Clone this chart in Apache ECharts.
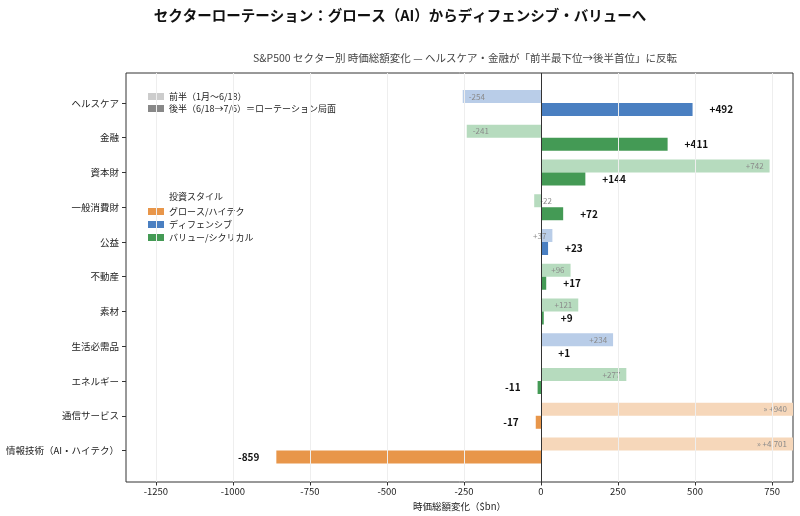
<!DOCTYPE html>
<html>
<head>
<meta charset="utf-8">
<script src="https://cdn.jsdelivr.net/npm/echarts@6/dist/echarts.min.js"></script>
<style>
  html, body { margin: 0; padding: 0; background: #fff; }
  #chart { width: 800px; height: 516px; }
</style>
</head>
<body>
<div id="chart"></div>
<script>
/* データ */
const sectors = ['ヘルスケア', '金融', '資本財', '一般消費財', '公益', '不動産', '素材', '生活必需品', 'エネルギー', '通信サービス', '情報技術（AI・ハイテク）']
const sectorStyles = ['def', 'val', 'val', 'val', 'def', 'val', 'val', 'def', 'val', 'gro', 'gro']
const firstHalf = [-254, -241, 742, -22, 37, 96, 121, 234, 277, 940, 4701]
const secondHalf = [492, 411, 144, 72, 23, 17, 9, 1, -11, -17, -859]
const xTicks = [-1250, -1000, -750, -500, -250, 0, 250, 500, 750]
const styleKeys = ['gro', 'def', 'val']
const styleNames = ['グロース/ハイテク', 'ディフェンシブ', 'バリュー/シクリカル']
const periodNames = ['前半（1月〜6/18）', '後半（6/18→7/6）＝ローテーション局面']

/* 色 */
const darkColor = { gro: '#e8964a', def: '#4a7fc1', val: '#449a55' }
const lightColor = { gro: '#f6d7ba', def: '#b9cde8', val: '#b6dbbe' }
const FONT = '"Noto Sans CJK JP", "Noto Sans", sans-serif'
const X_MIN = -1347
const X_MAX = 818

const fmt = v => (v > 0 ? '+' : '') + v.toLocaleString('en-US')

const firstData = firstHalf.map((v, i) => ({
  value: v,
  itemStyle: { color: lightColor[sectorStyles[i]] },
  label: {
    position: v < 0 ? 'insideLeft' : 'insideRight',
    formatter: (v > X_MAX ? '» ' : '') + fmt(v)
  }
}))

const secondData = secondHalf.map((v, i) => ({
  value: v,
  itemStyle: { color: darkColor[sectorStyles[i]] },
  label: { position: v < 0 ? 'left' : 'right' }
}))

const chart = echarts.init(document.getElementById('chart'))

const option = {
  animation: false,
  textStyle: { fontFamily: FONT },
  title: [
    {
      text: 'セクターローテーション：グロース（AI）からディフェンシブ・バリューへ',
      left: 'center', top: 3,
      textStyle: { fontFamily: FONT, fontSize: 14.5, fontWeight: 'bold', color: '#111' }
    },
    {
      text: 'S&P500 セクター別 時価総額変化 — ヘルスケア・金融が「前半最下位→後半首位」に反転',
      left: 460, top: 48, textAlign: 'center',
      textStyle: { fontFamily: FONT, fontSize: 10.5, fontWeight: 'normal', color: '#444' }
    }
  ],
  graphic: [{
    type: 'text', left: 169, top: 192,
    style: { text: '投資スタイル', font: '9px ' + FONT, fill: '#222' }
  }],
  legend: [
    {
      data: periodNames, orient: 'vertical', left: 143, top: 87,
      icon: 'rect', itemWidth: 16, itemHeight: 7, itemGap: 3,
      textStyle: { fontFamily: FONT, fontSize: 9, color: '#222' }
    },
    {
      data: styleNames, orient: 'vertical', left: 143, top: 202,
      icon: 'rect', itemWidth: 16, itemHeight: 7, itemGap: 4,
      textStyle: { fontFamily: FONT, fontSize: 9, color: '#222' }
    }
  ],
  grid: [
    { left: 126, right: 7, top: 85.6, bottom: 47.6 },
    { left: 126, right: 7, top: 73, bottom: 34, show: true, borderColor: '#333', borderWidth: 1 }
  ],
  xAxis: [
    {
      type: 'value', gridIndex: 0, min: X_MIN, max: X_MAX, offset: 13.6,
      axisLine: { show: false, onZero: false },
      splitLine: { show: false },
      axisTick: { show: true, length: 4, customValues: xTicks, lineStyle: { color: '#333' } },
      axisLabel: { customValues: xTicks, fontSize: 9.5, color: '#222', margin: 5, formatter: v => String(v) },
      name: '時価総額変化（$bn）', nameLocation: 'middle', nameGap: 20,
      nameTextStyle: { fontFamily: FONT, fontSize: 9.5, color: '#222' }
    },
    { type: 'value', gridIndex: 1, min: X_MIN, max: X_MAX, show: false }
  ],
  yAxis: [
    {
      type: 'category', gridIndex: 0, data: sectors, inverse: true,
      axisLine: { show: false, onZero: false },
      axisTick: { show: true, length: 4, alignWithLabel: true, lineStyle: { color: '#333' } },
      axisLabel: { fontSize: 9.5, color: '#222', margin: 7 }
    },
    { type: 'value', gridIndex: 1, min: 0, max: 1, show: false }
  ],
  series: [
    {
      name: periodNames[0], type: 'bar', xAxisIndex: 0, yAxisIndex: 0,
      barWidth: 13, barGap: '0%',
      itemStyle: { color: '#cccccc' },
      label: { show: true, fontSize: 8, color: '#8a8a8a', distance: 6 },
      data: firstData
    },
    {
      name: periodNames[1], type: 'bar', xAxisIndex: 0, yAxisIndex: 0,
      barWidth: 13, barGap: '0%',
      itemStyle: { color: '#888888' },
      label: {
        show: true, fontSize: 10, fontWeight: 'bold', color: '#111', distance: 17,
        formatter: p => fmt(p.value)
      },
      data: secondData
    },
    /* グリッド線 */
    {
      type: 'line', xAxisIndex: 1, yAxisIndex: 1, data: [], z: 0, silent: true,
      markLine: {
        silent: true, symbol: 'none', label: { show: false },
        lineStyle: { color: '#eeeeee', type: 'solid', width: 1 },
        data: xTicks.filter(t => t !== 0).map(t => ({ xAxis: t }))
      }
    },
    /* ゼロ線 */
    {
      type: 'line', xAxisIndex: 1, yAxisIndex: 1, data: [], z: 5, silent: true,
      markLine: {
        silent: true, symbol: 'none', label: { show: false },
        lineStyle: { color: '#333333', type: 'solid', width: 1 },
        data: [{ xAxis: 0 }]
      }
    },
    /* 投資スタイル凡例用 */
    ...styleKeys.map((k, i) => ({
      name: styleNames[i], type: 'line', xAxisIndex: 1, yAxisIndex: 1,
      data: [], color: darkColor[k]
    }))
  ]
}

chart.setOption(option)
</script>
</body>
</html>
